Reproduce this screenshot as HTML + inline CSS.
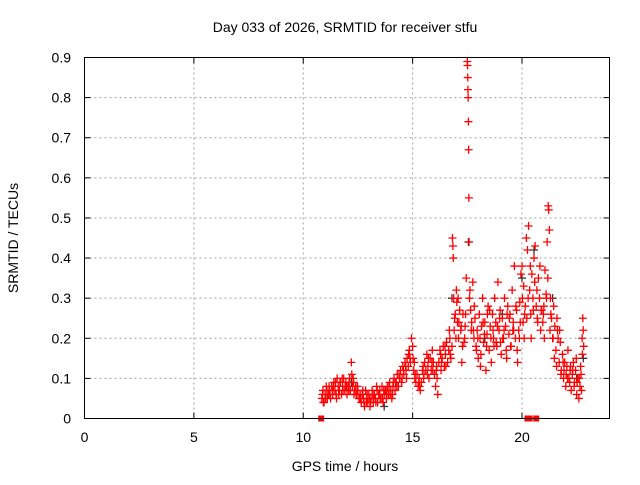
<!DOCTYPE html>
<html><head><meta charset="utf-8"><style>
body{margin:0;background:#fff;width:640px;height:480px;overflow:hidden}
svg text{font-family:"Liberation Sans",sans-serif;font-size:14px;fill:#000}
</style></head><body>
<svg id="chart" width="640" height="480" xmlns="http://www.w3.org/2000/svg">
<rect width="640" height="480" fill="#fff"/>
<g id="grid"></g>
<g id="pts"></g>
<rect x="84.5" y="57.5" width="525" height="361" fill="none" stroke="#000" stroke-width="1"/>
<g id="ticks"></g>
<text x="345" y="32" text-anchor="middle">Day 033 of 2026, SRMTID for receiver stfu</text>
<text x="345" y="471" text-anchor="middle">GPS time / hours</text>
<text transform="translate(18,238) rotate(-90)" text-anchor="middle">SRMTID / TECUs</text>
</svg>
<script>
const xTicks=[0,5,10,15,20];
const yTicks=[0,0.1,0.2,0.3,0.4,0.5,0.6,0.7,0.8,0.9];
const yTickLabels=["0","0.1","0.2","0.3","0.4","0.5","0.6","0.7","0.8","0.9"];
const times=[10.85,10.9,10.95,11.0,11.05,11.1,11.15,11.2,11.25,11.3,11.35,11.4,11.45,11.5,11.55,11.6,11.65,11.7,11.75,11.8,11.85,11.9,11.95,12.0,12.05,12.1,12.15,12.2,12.22,12.25,12.3,12.35,12.4,12.45,12.5,12.55,12.6,12.65,12.7,12.75,12.8,12.85,12.9,12.95,13.0,13.05,13.1,13.15,13.2,13.25,13.3,13.35,13.4,13.45,13.5,13.55,13.6,13.65,13.7,13.75,13.8,13.85,13.9,13.95,14.0,14.05,14.1,14.15,14.2,14.25,14.3,14.35,14.4,14.45,14.5,14.55,14.6,14.65,14.7,14.75,14.8,14.85,14.9,14.95,15.0,15.02,15.05,15.1,15.15,15.2,15.25,15.3,15.35,15.4,15.45,15.5,15.55,15.6,15.65,15.7,15.75,15.8,15.85,15.9,15.95,16.0,16.05,16.1,16.15,16.2,16.25,16.3,16.35,16.4,16.45,16.5,16.55,16.6,16.65,16.7,16.75,16.8,16.82,16.84,16.86,16.88,16.9,16.95,17.0,17.02,17.05,17.1,17.15,17.2,17.25,17.3,17.35,17.4,17.45,17.5,17.51,17.52,17.53,17.54,17.55,17.56,17.57,17.58,17.6,17.65,17.7,17.75,17.8,17.85,17.9,17.95,18.0,18.05,18.1,18.15,18.2,18.25,18.3,18.35,18.4,18.45,18.5,18.55,18.6,18.65,18.7,18.75,18.8,18.85,18.9,18.95,19.0,19.05,19.1,19.15,19.2,19.25,19.3,19.35,19.4,19.45,19.5,19.55,19.6,19.65,19.7,19.75,19.8,19.85,19.9,19.95,20.0,20.02,20.05,20.1,20.15,20.2,20.25,20.3,20.35,20.4,20.45,20.5,20.55,20.6,20.65,20.7,20.75,20.8,20.85,20.9,20.95,21.0,21.05,21.1,21.15,21.2,21.22,21.25,21.3,21.35,21.4,21.45,21.5,21.55,21.6,21.65,21.7,21.75,21.8,21.85,21.9,21.95,22.0,22.05,22.1,22.15,22.2,22.25,22.3,22.35,22.4,22.45,22.5,22.55,22.6,22.65,22.7,22.75,22.78,22.8,22.82];
const srmtid=[.05,.07,.04,.06,.08,.05,.06,.07,.05,.08,.06,.09,.07,.06,.1,.08,.07,.09,.06,.08,.1,.07,.09,.06,.08,.09,.07,.14,.11,.08,.09,.07,.08,.06,.07,.05,.06,.04,.06,.05,.03,.07,.05,.04,.06,.03,.05,.07,.04,.06,.05,.08,.04,.06,.07,.05,.08,.04,.06,.07,.05,.08,.06,.09,.07,.05,.08,.1,.07,.09,.11,.08,.1,.12,.09,.13,.11,.14,.12,.15,.13,.17,.14,.2,.18,.15,.12,.1,.09,.11,.08,.1,.07,.09,.12,.1,.14,.12,.16,.13,.1,.15,.12,.17,.14,.11,.08,.13,.06,.14,.17,.12,.15,.18,.13,.16,.19,.14,.17,.2,.15,.18,.45,.43,.4,.3,.22,.26,.32,.29,.24,.2,.27,.22,.14,.26,.19,.23,.35,.89,.88,.85,.82,.8,.74,.67,.55,.44,.3,.27,.24,.34,.2,.25,.18,.22,.15,.26,.13,.23,.3,.19,.24,.12,.21,.28,.17,.23,.14,.26,.2,.3,.24,.18,.34,.22,.27,.16,.25,.2,.3,.23,.15,.28,.21,.26,.18,.32,.24,.38,.2,.27,.14,.22,.29,.36,.38,.3,.24,.2,.28,.45,.42,.48,.32,.26,.36,.3,.4,.43,.28,.25,.35,.3,.22,.27,.24,.28,.37,.31,.44,.53,.52,.47,.3,.25,.2,.28,.23,.17,.25,.2,.14,.19,.12,.16,.1,.14,.08,.13,.17,.1,.12,.07,.11,.14,.09,.12,.06,.1,.05,.08,.11,.2,.25,.22,.18];
const times2=[10.88,11.02,11.18,11.33,11.48,11.62,11.78,11.92,12.08,12.28,12.42,12.58,12.72,12.88,13.02,13.18,13.32,13.48,13.62,13.78,13.92,14.08,14.22,14.38,14.52,14.68,14.82,15.08,15.28,15.48,15.68,15.88,16.08,16.28,16.48,16.68,16.92,17.08,17.22,17.38,17.62,17.78,17.92,18.08,18.22,18.38,18.52,18.68,18.82,18.98,19.12,19.28,19.42,19.58,19.72,19.88,20.08,20.22,20.38,20.52,20.68,20.82,20.98,21.12,21.28,21.42,21.58,21.72,21.88,22.02,22.18,22.32,22.48,22.62,22.72];
const srmtid2=[.06,.05,.08,.07,.09,.06,.1,.08,.07,.1,.06,.05,.07,.04,.05,.06,.04,.06,.05,.07,.08,.06,.09,.11,.1,.13,.16,.14,.09,.13,.11,.14,.12,.16,.18,.22,.25,.3,.23,.2,.32,.22,.17,.2,.24,.18,.27,.22,.19,.25,.2,.17,.25,.22,.28,.2,.33,.25,.38,.27,.32,.38,.26,.3,.22,.2,.13,.22,.14,.11,.09,.12,.15,.1,.07];
const times3=[10.92,11.08,11.22,11.38,11.52,11.68,11.82,11.98,12.12,12.32,12.48,12.62,12.78,12.92,13.08,13.22,13.38,13.52,13.68,13.82,13.98,14.12,14.28,14.42,14.58,14.72,14.88,15.12,15.32,15.52,15.72,15.92,16.12,16.32,16.52,16.72,16.98,17.12,17.28,17.42,17.68,17.82,17.98,18.12,18.28,18.42,18.58,18.72,18.88,19.02,19.18,19.32,19.48,19.62,19.78,19.92,20.12,20.28,20.42,20.58,20.72,20.88,21.02,21.18,21.32,21.48,21.62,21.78,21.92,22.08,22.22,22.38,22.52,22.68,22.76];
const srmtid3=[.04,.07,.06,.08,.05,.09,.07,.08,.1,.06,.08,.05,.04,.06,.04,.05,.07,.05,.07,.06,.06,.09,.08,.1,.12,.1,.15,.11,.08,.11,.15,.12,.1,.14,.13,.16,.2,.24,.18,.26,.22,.28,.2,.16,.21,.26,.2,.18,.23,.19,.22,.26,.18,.22,.17,.24,.26,.3,.2,.34,.24,.27,.2,.35,.26,.15,.22,.11,.12,.1,.13,.08,.09,.13,.16];
const blackTimes=[12.2,13.7,16.8,17.55,18.3,19.1,20.0,20.55,21.4,22.5,22.8];
const blackVals=[.09,.03,.3,.44,.2,.26,.35,.42,.3,.1,.15];
const zeroTimes=[10.82,20.25,20.35,20.65];
const X0=84.5,X1=609.5,Y0=418.5,Y1=57.5;
const xs=t=>X0+(t/24)*(X1-X0);
const ys=v=>Y0-(v/0.9)*(Y0-Y1);
const NS="http://www.w3.org/2000/svg";
function mk(tag,attrs,parent){const e=document.createElementNS(NS,tag);for(const k in attrs)e.setAttribute(k,attrs[k]);parent.appendChild(e);return e;}
const grid=document.getElementById('grid'),ticks=document.getElementById('ticks'),pts=document.getElementById('pts');
xTicks.forEach(t=>{const x=xs(t);
 if(t>0){const l=mk('line',{x1:x,x2:x,y1:Y1,y2:Y0,stroke:'#a0a0a0','stroke-dasharray':'2,3'},grid);}
 mk('line',{x1:x,x2:x,y1:Y0,y2:Y0-6,stroke:'#000'},ticks);mk('line',{x1:x,x2:x,y1:Y1,y2:Y1+6,stroke:'#000'},ticks);
 const tx=mk('text',{x:x,y:442,'text-anchor':'middle'},ticks);tx.textContent=t;
 });
yTicks.forEach((v,i)=>{const y=ys(v);
 if(v>0&&v<0.9){const l=mk('line',{x1:X0,x2:X1,y1:y,y2:y,stroke:'#a0a0a0','stroke-dasharray':'2,3'},grid);}
 mk('line',{x1:X0,x2:X0+6,y1:y,y2:y,stroke:'#000'},ticks);mk('line',{x1:X1,x2:X1-6,y1:y,y2:y,stroke:'#000'},ticks);
 const tx=mk('text',{x:71,y:y+5,'text-anchor':'end'},ticks);tx.textContent=yTickLabels[i];
 });
function plus(t,v,col){const x=xs(t),y=ys(v);
 const p=mk('path',{d:`M${x-4},${y}h8M${x},${y-4}v8`,stroke:col,'stroke-width':1.3,fill:'none'},pts);
 }
blackTimes.forEach((t,i)=>plus(t,blackVals[i],'#333'));
times3.forEach((t,i)=>plus(t,srmtid3[i],'#f00'));
times2.forEach((t,i)=>plus(t,srmtid2[i],'#f00'));
times.forEach((t,i)=>plus(t,srmtid[i],'#f00'));
zeroTimes.forEach(t=>{const r=mk('rect',{x:xs(t)-3,y:Y0-3,width:6,height:6,fill:'#f00'},pts);
 });
</script>
</body></html>
